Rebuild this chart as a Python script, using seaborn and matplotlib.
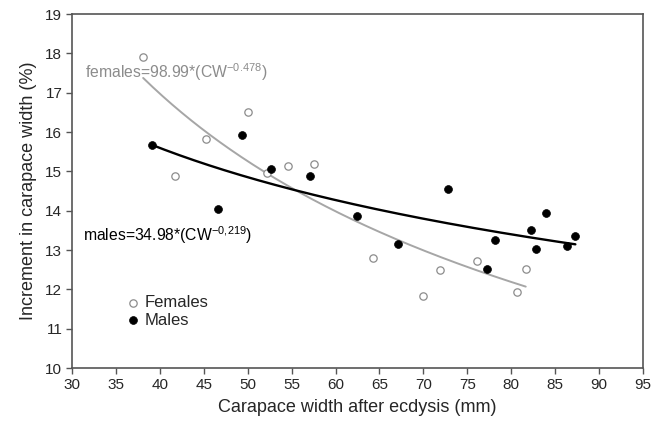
import numpy as np
import pandas as pd
import matplotlib
matplotlib.use("Agg")
import matplotlib.pyplot as plt
import seaborn as sns

# Carapace width after ecdysis (mm) and moult increment (%)
females_cw = [38.1, 41.7, 45.3, 50.0, 52.2, 54.6, 57.5, 64.3, 69.9, 71.9, 76.1, 80.6, 81.65]
females_inc = [17.90, 14.88, 15.82, 16.52, 14.96, 15.14, 15.19, 12.79, 11.83, 12.49, 12.73, 11.94, 12.52]

males_cw = [39.07, 46.65, 49.4, 52.65, 57.05, 62.4, 67.1, 72.8, 77.2, 78.1, 82.25, 82.85, 84.0, 86.3, 87.3]
males_inc = [15.66, 14.03, 15.92, 15.06, 14.88, 13.86, 13.14, 14.56, 12.52, 13.26, 13.50, 13.02, 13.94, 13.10, 13.36]

# Power-law fits: increment = a * CW^b
fem_a, fem_b = 98.99, -0.478
mal_a, mal_b = 34.98, -0.219

x_ticks = list(range(30, 100, 5))
y_ticks = list(range(10, 20, 1))

sns.set_style("ticks")
plt.rcParams["font.family"] = ["Liberation Sans", "DejaVu Sans"]
plt.rcParams["mathtext.fontset"] = "custom"
plt.rcParams["mathtext.rm"] = "Liberation Sans"
plt.rcParams["mathtext.it"] = "Liberation Sans"
plt.rcParams["mathtext.default"] = "rm"

fem_df = pd.DataFrame({"cw": females_cw, "inc": females_inc})
mal_df = pd.DataFrame({"cw": males_cw, "inc": males_inc})

fem_x = np.linspace(min(females_cw), max(females_cw), 200)
mal_x = np.linspace(min(males_cw), max(males_cw), 200)
fem_fit = pd.DataFrame({"cw": fem_x, "inc": fem_a * fem_x ** fem_b})
mal_fit = pd.DataFrame({"cw": mal_x, "inc": mal_a * mal_x ** mal_b})

fig = plt.figure(figsize=(6.68, 4.28), dpi=100)
ax = fig.add_axes([72 / 668, 60 / 428, 571 / 668, 354 / 428])

sns.lineplot(data=fem_fit, x="cw", y="inc", ax=ax, color="#a6a6a6", lw=1.4, zorder=2)
sns.lineplot(data=mal_fit, x="cw", y="inc", ax=ax, color="black", lw=1.7, zorder=2)

sns.scatterplot(data=fem_df, x="cw", y="inc", ax=ax, marker="o", s=28,
                facecolor="white", edgecolor="#8c8c8c", linewidth=0.9,
                label="Females", zorder=3)
sns.scatterplot(data=mal_df, x="cw", y="inc", ax=ax, marker="o", s=32,
                color="black", edgecolor="black", linewidth=0.5,
                label="Males", zorder=3)

ax.text(31.5, 17.53, r"females=98.99*(CW$^{-0.478}$)", color="#8c8c8c",
        fontsize=11.3, va="center", ha="left")
ax.text(31.3, 13.38, r"males=34.98*(CW$^{-0{,}219}$)", color="black",
        fontsize=11.3, va="center", ha="left")

ax.set_xlim(30, 95)
ax.set_ylim(10, 19)
ax.set_xticks(x_ticks)
ax.set_yticks(y_ticks)
ax.tick_params(axis="both", direction="out", length=4, width=1, color="#555555",
               labelsize=11, pad=3)
for sp in ax.spines.values():
    sp.set_visible(True)
    sp.set_color("#555555")
    sp.set_linewidth(1.2)

ax.set_xlabel("Carapace width after ecdysis (mm)", fontsize=13, labelpad=5)
ax.set_ylabel("Increment in carapace width (%)", fontsize=13, labelpad=6)

ax.legend(loc="center left", bbox_to_anchor=(0.077, 0.16), frameon=False,
          fontsize=12, handletextpad=0.2, labelspacing=0.15, borderpad=0,
          handlelength=1.0)

fig.savefig("out.png", dpi=100)
